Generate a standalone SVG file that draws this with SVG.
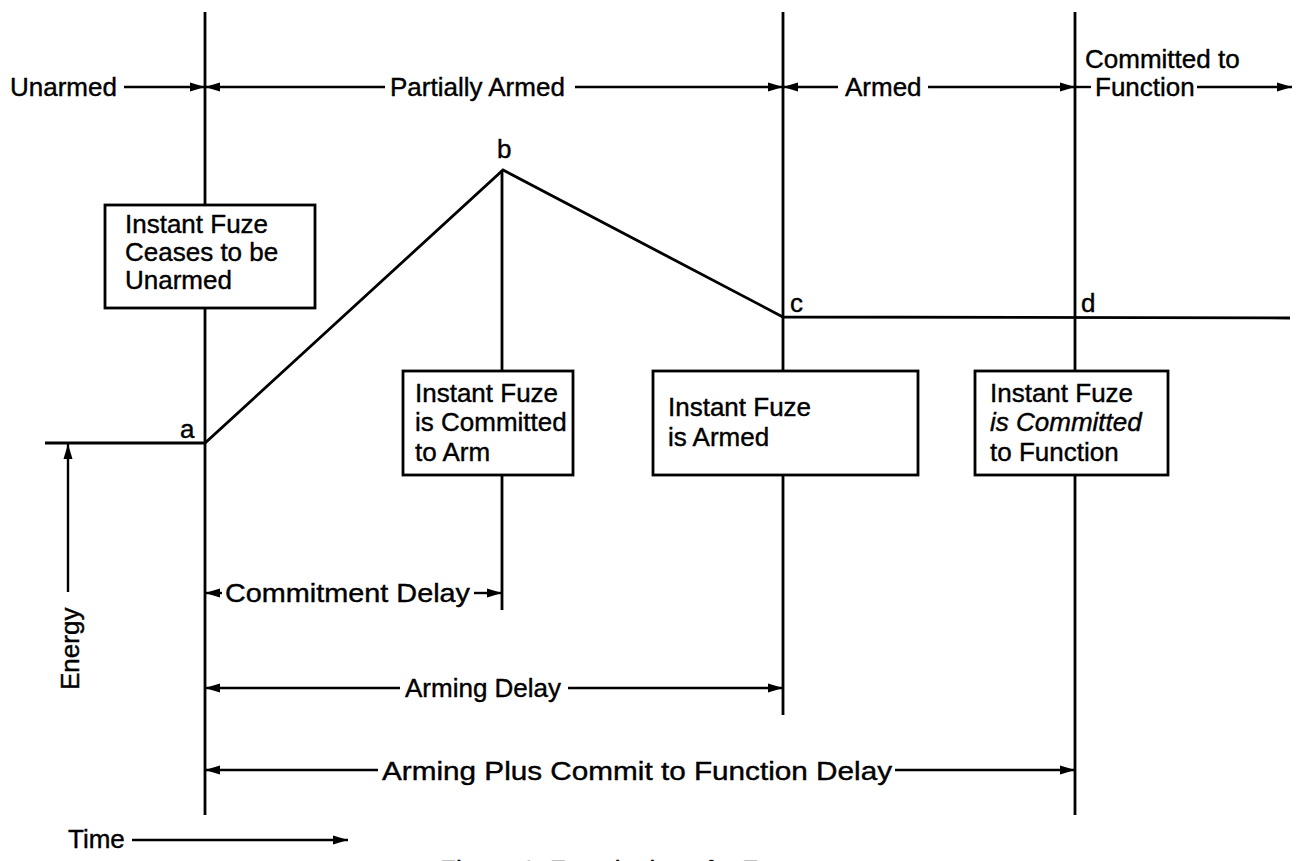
<svg xmlns="http://www.w3.org/2000/svg" width="1303" height="861" viewBox="0 0 1303 861">
<defs>
<marker id="ah" markerWidth="16" markerHeight="12" refX="15" refY="6" orient="auto-start-reverse" markerUnits="userSpaceOnUse"><path d="M0,1.5 L15,6 L0,10.5 Z" fill="#000"/></marker>
</defs>
<style>
.ln{stroke:#000;stroke-width:2.8;fill:none;stroke-linecap:butt}
.ar{stroke:#000;stroke-width:2.4;fill:none}
.bx{fill:#fff;stroke:#000;stroke-width:2.8}
text{font-family:"Liberation Sans",Arial,Helvetica,sans-serif;font-size:26px;fill:#000;stroke:#000;stroke-width:0.4}
</style>
<rect width="1303" height="861" fill="#fff"/>
<g id="connectors">
  <line class="ln" x1="205" y1="12" x2="205" y2="815"/>
  <line class="ln" x1="502" y1="170" x2="502" y2="610"/>
  <line class="ln" x1="783" y1="12" x2="783" y2="715"/>
  <line class="ln" x1="1075" y1="12" x2="1075" y2="815"/>
  <polyline class="ln" points="45,443 205,443 503,170 783,317 1290,318"/>
  <line class="ar" x1="124" y1="87" x2="205" y2="87" marker-end="url(#ah)"/>
  <line class="ar" x1="205" y1="87" x2="385" y2="87" marker-start="url(#ah)"/>
  <line class="ar" x1="575" y1="87" x2="783" y2="87" marker-end="url(#ah)"/>
  <line class="ar" x1="783" y1="87" x2="838" y2="87" marker-start="url(#ah)"/>
  <line class="ar" x1="928" y1="87" x2="1075" y2="87" marker-end="url(#ah)"/>
  <line class="ar" x1="1076" y1="87" x2="1091" y2="87"/>
  <line class="ar" x1="1197" y1="87" x2="1292" y2="87" marker-end="url(#ah)"/>
  <line class="ar" x1="68" y1="592" x2="68" y2="444" marker-end="url(#ah)"/>
  <line class="ar" x1="205" y1="593" x2="222" y2="593" marker-start="url(#ah)"/>
  <line class="ar" x1="474" y1="593" x2="502" y2="593" marker-end="url(#ah)"/>
  <line class="ar" x1="205" y1="688" x2="400" y2="688" marker-start="url(#ah)"/>
  <line class="ar" x1="568" y1="688" x2="783" y2="688" marker-end="url(#ah)"/>
  <line class="ar" x1="205" y1="770" x2="378" y2="770" marker-start="url(#ah)"/>
  <line class="ar" x1="895" y1="770" x2="1075" y2="770" marker-end="url(#ah)"/>
  <line class="ar" x1="132" y1="840" x2="348" y2="840" marker-end="url(#ah)"/>
</g>
<g id="labels">
  <text x="10" y="96">Unarmed</text>
  <text x="390" y="96">Partially Armed</text>
  <text x="845" y="96">Armed</text>
  <text x="1085" y="68">Committed to</text>
  <text x="1095" y="96">Function</text>
  <text x="180" y="438">a</text>
  <text x="497" y="158">b</text>
  <text x="790" y="312">c</text>
  <text x="1081" y="312">d</text>
  <text transform="translate(79,690) rotate(-90)">Energy</text>
  <text x="225" y="602" font-size="27" textLength="245" lengthAdjust="spacingAndGlyphs">Commitment Delay</text>
  <text x="405" y="697">Arming Delay</text>
  <text x="382" y="780" font-size="28" textLength="510" lengthAdjust="spacingAndGlyphs">Arming Plus Commit to Function Delay</text>
  <text x="68" y="848" font-size="24">Time</text>
  <text x="440" y="879">Figure 1. Functioning of a Fuze</text>
</g>
<g id="node-a">
  <rect class="bx" x="105" y="205" width="210" height="103"/>
  <text x="125" y="233">Instant Fuze</text>
  <text x="125" y="261">Ceases to be</text>
  <text x="125" y="289">Unarmed</text>
</g>
<g id="node-b">
  <rect class="bx" x="403" y="371" width="170" height="104"/>
  <text x="415" y="402">Instant Fuze</text>
  <text x="415" y="431">is Committed</text>
  <text x="415" y="461">to Arm</text>
</g>
<g id="node-c">
  <rect class="bx" x="653" y="371" width="265" height="104"/>
  <text x="668" y="416">Instant Fuze</text>
  <text x="668" y="446">is Armed</text>
</g>
<g id="node-d">
  <rect class="bx" x="975" y="371" width="193" height="104"/>
  <text x="990" y="402">Instant Fuze</text>
  <text x="990" y="431" font-style="italic">is Committed</text>
  <text x="990" y="461">to Function</text>
</g>
</svg>
